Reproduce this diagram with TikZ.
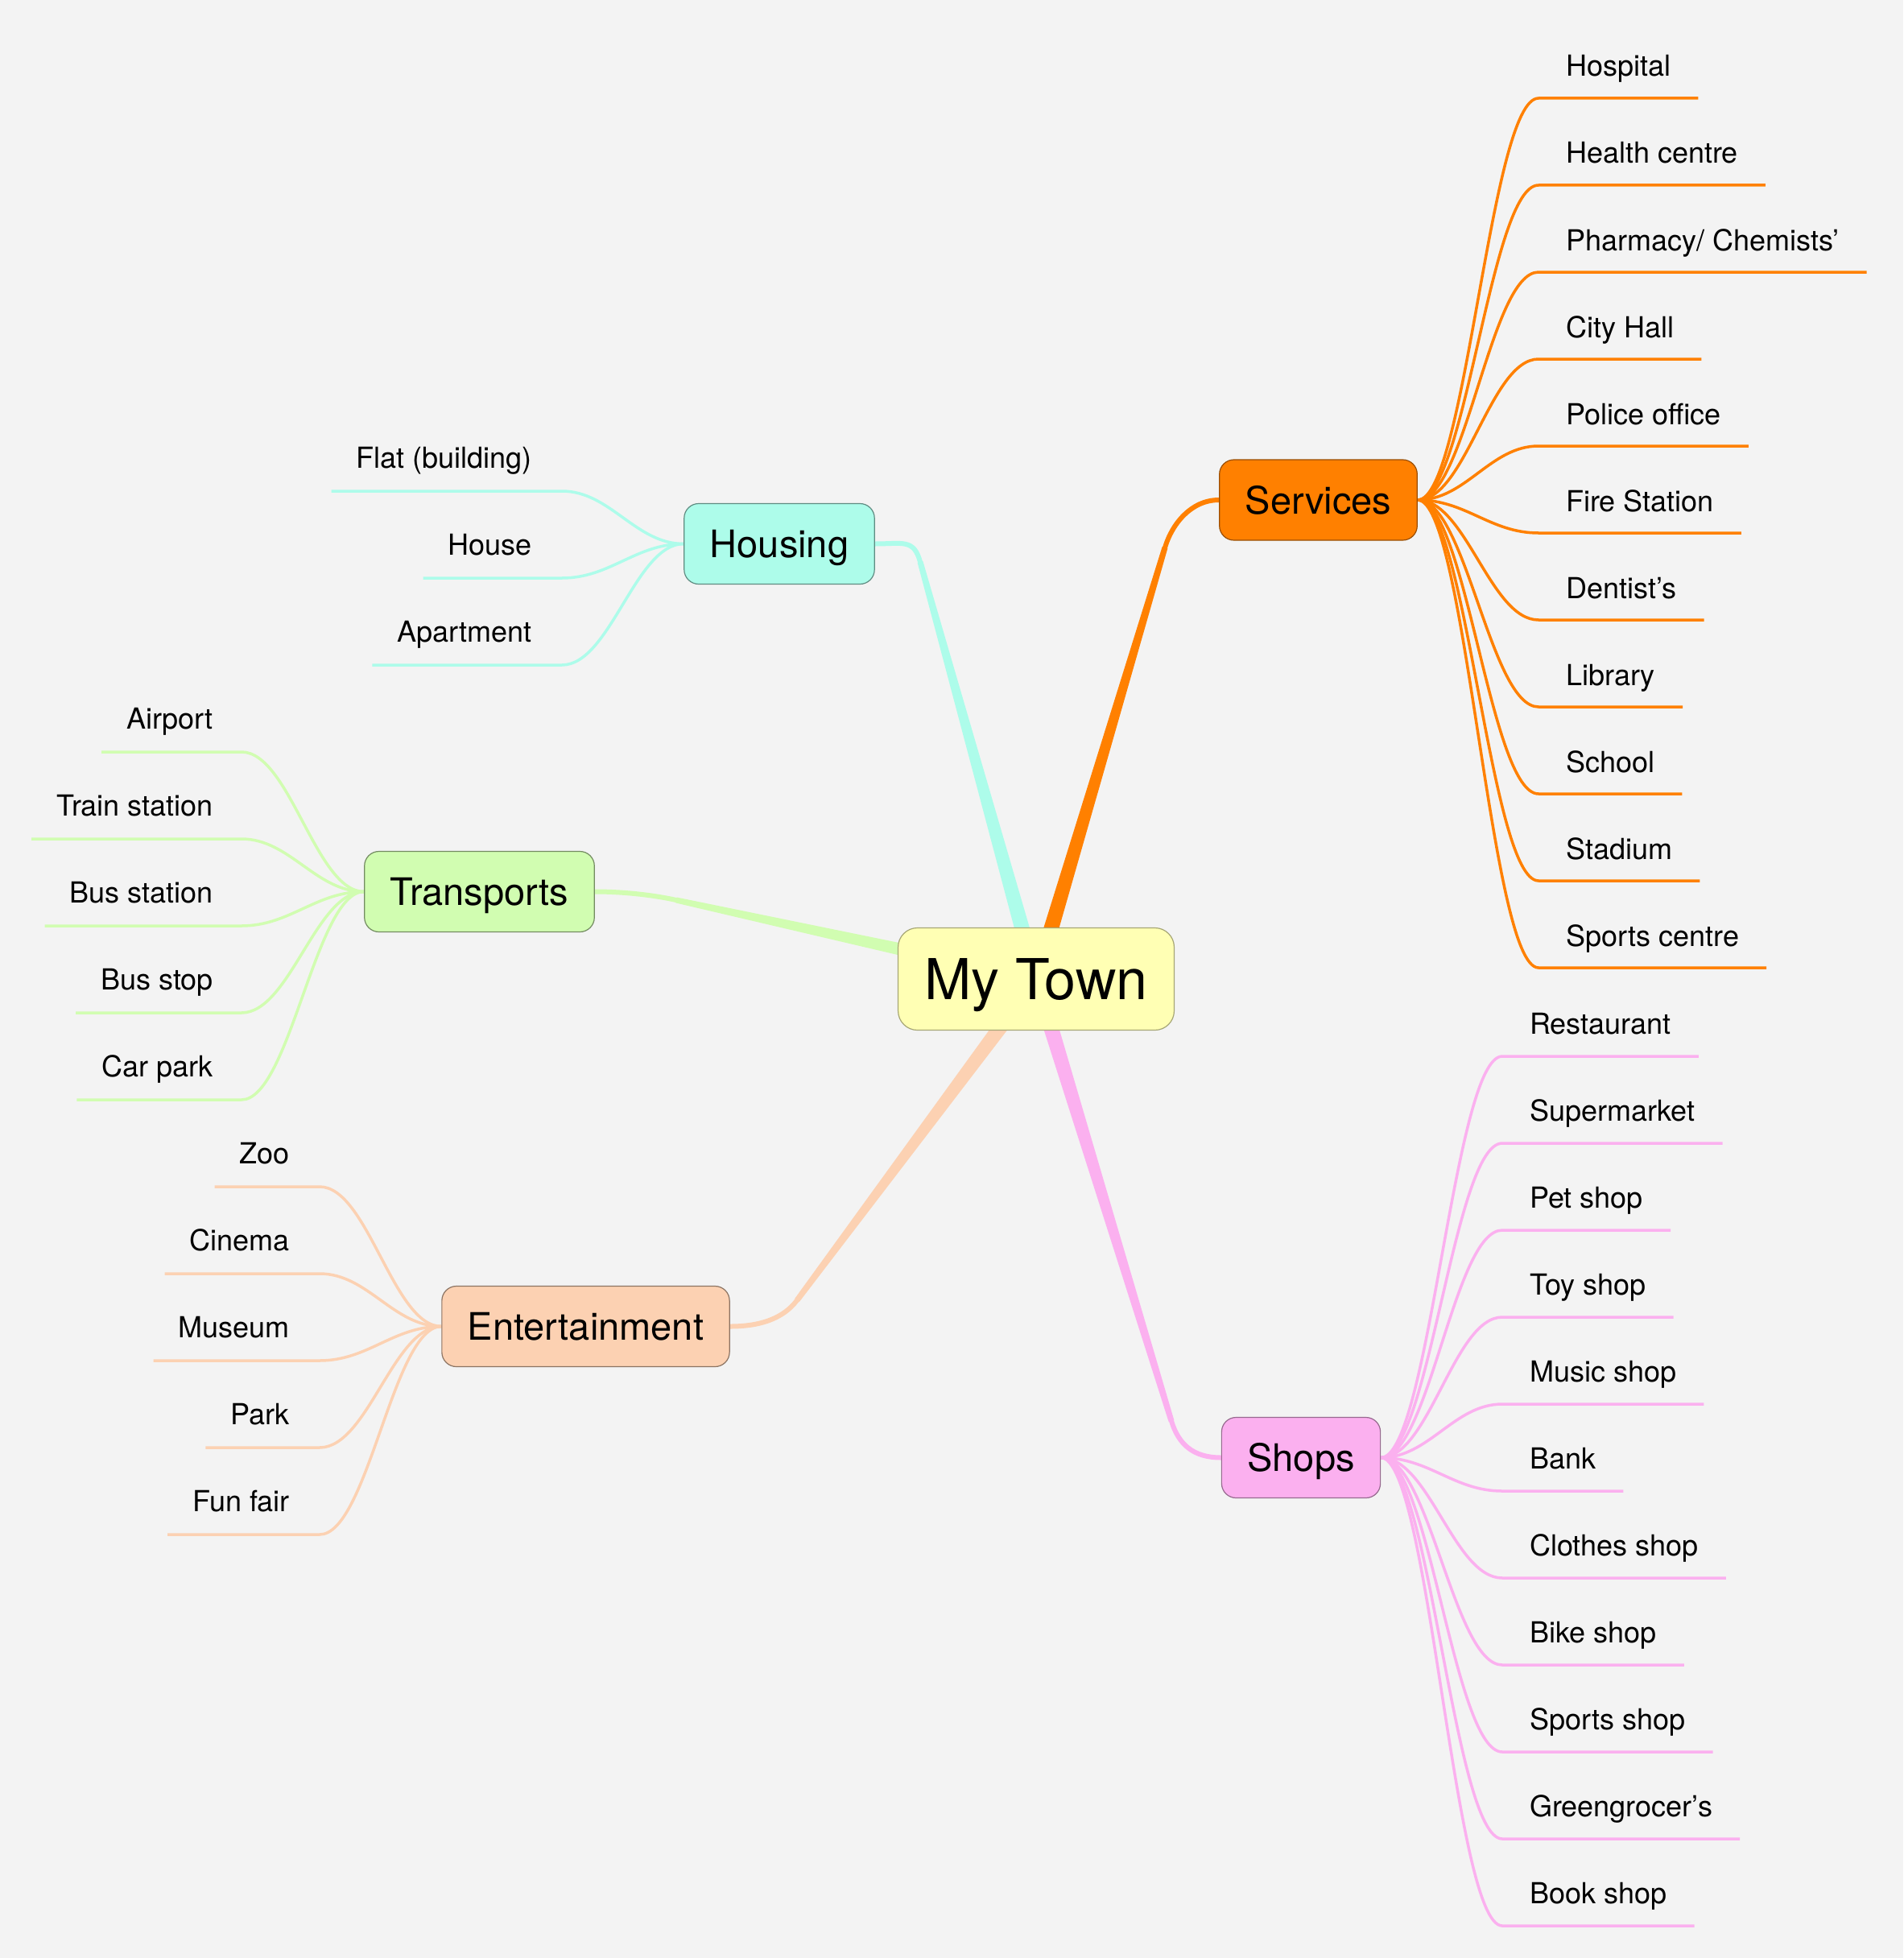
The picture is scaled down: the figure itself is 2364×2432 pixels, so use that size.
\documentclass[tikz,border=0pt]{standalone}
\usepackage{fontspec}
\setmainfont{TeX Gyre Heros}
\usetikzlibrary{calc}
\pgfdeclarelayer{paper}
\pgfdeclarelayer{links}
\pgfsetlayers{paper,links,main}
\definecolor{cTown}{HTML}{FFFFB4}
\definecolor{cServ}{HTML}{FF8000}
\definecolor{cShop}{HTML}{FBB0EF}
\definecolor{cHouse}{HTML}{ADFCEA}
\definecolor{cTrans}{HTML}{D1FDB1}
\definecolor{cEnt}{HTML}{FCD1B2}
\definecolor{paperbg}{HTML}{F3F3F3}
\tikzset{
  topic/.style={rounded corners=18pt, inner xsep=32pt, inner ysep=0pt,
    text height=34pt, text depth=0pt,
    minimum height=100pt, line width=1.2pt, font=\fontsize{47}{56}\selectfont},
  leaf/.style={inner sep=0pt, font=\fontsize{36}{43}\selectfont, text=black},
  twig/.style={line width=3.5pt, line join=round},
  trunk/.style={line width=6pt, line cap=round},
}
\newcommand\taper[3]{% color, from, to
  \fill[#1] ($(#2)!10pt!90:(#3)$) -- ($(#3)!3.5pt!-90:(#2)$) --
    ($(#3)!3.5pt!90:(#2)$) -- ($(#2)!10pt!-90:(#3)$) -- cycle;}
\begin{document}
\begin{tikzpicture}[x=1pt,y=-1pt]
\begin{pgfonlayer}{paper}
  \fill[paperbg] (0,0) rectangle (2364,2432);
\end{pgfonlayer}
\useasboundingbox (0,0) rectangle (2364,2432);

% central and main topics
\node[topic, rounded corners=24pt, minimum height=127pt, inner xsep=33pt, text height=51pt,
  font=\fontsize{70}{84}\selectfont, fill=cTown, draw=cTown!65!black] (town) at (1287,1216) {My Town};
\node[topic, fill=cServ, draw=cServ!60!black] (serv) at (1637.5,621) {Services};
\node[topic, fill=cShop, draw=cShop!60!black] (shops) at (1616,1810.5) {Shops};
\node[topic, fill=cHouse, draw=cHouse!55!black] (house) at (968,675.5) {Housing};
\node[topic, fill=cTrans, draw=cTrans!55!black] (trans) at (595.5,1107.5) {Transports};
\node[topic, fill=cEnt, draw=cEnt!55!black] (ent) at (727.5,1647.5) {Entertainment};

% trunk connectors
\begin{pgfonlayer}{links}
  \coordinate (bS) at (1447,680);
  \coordinate (bH) at (1143,698);
  \coordinate (bT) at (840,1118);
  \coordinate (bE) at (990,1615);
  \coordinate (bP) at (1455,1765);
  \taper{cServ}{town.center}{bS}
  \draw[trunk, cServ] (bS) .. controls +(8.6,-28.7) and +(-35,0) .. (serv.west);
  \taper{cHouse}{town.center}{bH}
  \draw[trunk, cHouse] (bH) .. controls +(-8,-29) and +(35,0) .. (house.east);
  \taper{cTrans}{town.center}{bT}
  \draw[trunk, cTrans] (bT) .. controls +(-29,-6.4) and +(35,0) .. (trans.east);
  \taper{cEnt}{town.center}{bE}
  \draw[trunk, cEnt] (bE) .. controls +(-18,24) and +(35,0) .. (ent.east);
  \taper{cShop}{town.center}{bP}
  \draw[trunk, cShop] (bP) .. controls +(8.8,28.7) and +(-35,0) .. (shops.west);
\end{pgfonlayer}

% Services leaves
\foreach \t [count=\i from 0] in {Hospital,Health centre,{Pharmacy/ Chemists’},City Hall,Police office,Fire Station,Dentist’s,Library,School,Stadium,Sports centre}{
  \node[leaf, anchor=base west] (sv\i) at (1945,{95+108*\i}) {\t};
  \begin{pgfonlayer}{links}
  \draw[twig, cServ] (serv.east) .. controls +(60,0) and +(-60,0) ..
    ($(sv\i.base west)+(-34,27)$) -- ($(sv\i.base east)+(34,27)$);
  \end{pgfonlayer}
}
% Shops leaves
\foreach \t [count=\i from 0] in {Restaurant,Supermarket,Pet shop,Toy shop,Music shop,Bank,Clothes shop,Bike shop,Sports shop,Greengrocer’s,Book shop}{
  \node[leaf, anchor=base west] (sh\i) at (1900,{1284+108*\i}) {\t};
  \begin{pgfonlayer}{links}
  \draw[twig, cShop] (shops.east) .. controls +(60,0) and +(-60,0) ..
    ($(sh\i.base west)+(-34,28)$) -- ($(sh\i.base east)+(34,28)$);
  \end{pgfonlayer}
}
% Housing leaves
\foreach \t [count=\i from 0] in {Flat (building),House,Apartment}{
  \node[leaf, anchor=base east] (ho\i) at (661,{581+108*\i}) {\t};
  \begin{pgfonlayer}{links}
  \draw[twig, cHouse] (house.west) .. controls +(-60,0) and +(60,0) ..
    ($(ho\i.base east)+(37,29)$) -- ($(ho\i.base west)+(-31,29)$);
  \end{pgfonlayer}
}
% Transports leaves
\foreach \t [count=\i from 0] in {Airport,Train station,Bus station,Bus stop,Car park}{
  \node[leaf, anchor=base east] (tr\i) at (265,{905+108*\i}) {\t};
  \begin{pgfonlayer}{links}
  \draw[twig, cTrans] (trans.west) .. controls +(-60,0) and +(60,0) ..
    ($(tr\i.base east)+(35,29)$) -- ($(tr\i.base west)+(-31,29)$);
  \end{pgfonlayer}
}
% Entertainment leaves
\foreach \t [count=\i from 0] in {Zoo,Cinema,Museum,Park,Fun fair}{
  \node[leaf, anchor=base east] (en\i) at (360,{1445+108*\i}) {\t};
  \begin{pgfonlayer}{links}
  \draw[twig, cEnt] (ent.west) .. controls +(-60,0) and +(60,0) ..
    ($(en\i.base east)+(37,29)$) -- ($(en\i.base west)+(-31,29)$);
  \end{pgfonlayer}
}
\end{tikzpicture}
\end{document}
